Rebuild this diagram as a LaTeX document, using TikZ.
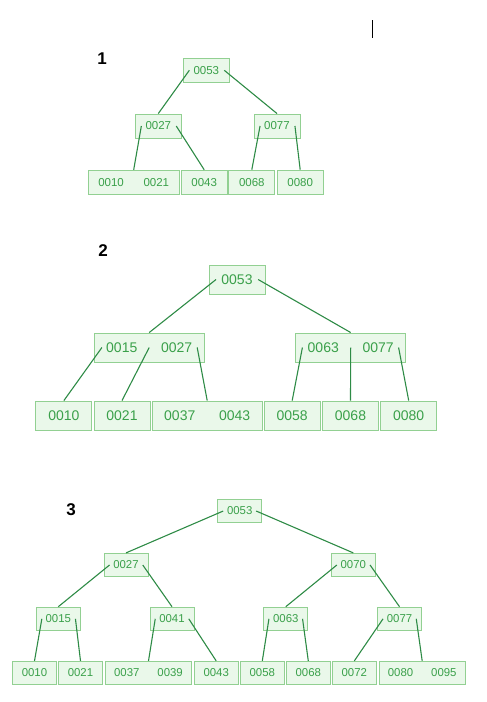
\documentclass[tikz,border=0pt]{standalone}
\usepackage{fontspec}
\setmainfont{Liberation Sans}
\usetikzlibrary{calc}
\definecolor{keyfill}{HTML}{EAF8EA}
\definecolor{keyline}{HTML}{92D092}
\definecolor{keytext}{HTML}{3AA04A}
\definecolor{ptrline}{HTML}{2E8B46}
\newcommand*{\twokeys}[3][20pt]{#2\hspace{#1}#3}

\begin{document}
\begin{tikzpicture}[x=1pt,y=-1pt,
  every node/.style = {inner sep=0pt},
  key/.style     = {draw=keyline,fill=keyfill,text=keytext,line width=0.9pt},
  tree1/.style   = {key,font=\fontsize{11.5}{12}\selectfont,minimum height=24pt,minimum width=46pt},
  tree2/.style   = {key,font=\fontsize{14}{15}\selectfont,minimum height=29pt,minimum width=56pt},
  tree3/.style   = {key,font=\fontsize{11.4}{12}\selectfont,minimum height=23.3pt,minimum width=44pt},
  treenum/.style = {font=\fontsize{17}{17}\selectfont\bfseries},
  ptr/.style     = {draw=ptrline,line width=1.1pt},
  ]
  \useasboundingbox (0,0) rectangle (487,702);
  \draw[line width=1.6pt] (372.3,20) -- (372.3,38);

  % tree 1
  \node[treenum] (num1) at (102,59) {1};
  \node[tree1] (t1r) at (206.3,70.3) {0053};
  \node[tree1] (t1a) at (158.3,126) {0027};
  \node[tree1] (t1b) at (277,126) {0077};
  \node[tree1,minimum width=90.7pt] (t1l1) at (133.7,182.2) {\twokeys[19.7pt]{0010}{0021}};
  \node[tree1] (t1l2) at (204.2,182.2) {0043};
  \node[tree1] (t1l3) at (251.8,182.2) {0068};
  \node[tree1] (t1l4) at (300.2,182.2) {0080};
  \draw[ptr] ($(t1r.west)+(6.5,0)$) -- (t1a.north);
  \draw[ptr] ($(t1r.east)+(-5.5,0)$) -- (t1b.north);
  \draw[ptr] ($(t1a.west)+(6.5,0)$) -- (t1l1.north);
  \draw[ptr] ($(t1a.east)+(-5.5,0)$) -- (t1l2.north);
  \draw[ptr] ($(t1b.west)+(6.5,0)$) -- (t1l3.north);
  \draw[ptr] ($(t1b.east)+(-5.5,0)$) -- (t1l4.north);

  % tree 2
  \node[treenum] (num2) at (103,251) {2};
  \node[tree2] (t2r) at (237,279.5) {0053};
  \node[tree2,minimum width=109.7pt] (t2a) at (149.2,347.5) {\twokeys[23.7pt]{0015}{0027}};
  \node[tree2,minimum width=109.7pt] (t2b) at (350.7,347.5) {\twokeys[23.7pt]{0063}{0077}};
  \node[tree2] (t2l1) at (63.9,415.5) {0010};
  \node[tree2] (t2l2) at (122,415.5) {0021};
  \node[tree2,minimum width=109.7pt] (t2l3) at (207.2,415.5) {\twokeys[23.7pt]{0037}{0043}};
  \node[tree2] (t2l4) at (292.2,415.5) {0058};
  \node[tree2] (t2l5) at (350.5,415.5) {0068};
  \node[tree2] (t2l6) at (408.7,415.5) {0080};
  \draw[ptr] ($(t2r.west)+(7.5,0)$) -- (t2a.north);
  \draw[ptr] ($(t2r.east)+(-7.3,0)$) -- (t2b.north);
  \draw[ptr] ($(t2a.west)+(8,0)$) -- (t2l1.north);
  \draw[ptr] (t2a.center) -- (t2l2.north);
  \draw[ptr] ($(t2a.east)+(-7.3,0)$) -- (t2l3.north);
  \draw[ptr] ($(t2b.west)+(7,0)$) -- (t2l4.north);
  \draw[ptr] (t2b.center) -- (t2l5.north);
  \draw[ptr] ($(t2b.east)+(-7.4,0)$) -- (t2l6.north);

  % tree 3
  \node[treenum] (num3) at (71,510) {3};
  \node[tree3] (t3r) at (239.7,511) {0053};
  \node[tree3] (t3a) at (126,565) {0027};
  \node[tree3] (t3b) at (353.3,565) {0070};
  \node[tree3] (t3c) at (58.3,618.8) {0015};
  \node[tree3] (t3d) at (172,618.8) {0041};
  \node[tree3] (t3e) at (285.8,618.8) {0063};
  \node[tree3] (t3f) at (399.5,618.8) {0077};
  \node[tree3] (t3l1) at (34.5,673) {0010};
  \node[tree3] (t3l2) at (80.5,673) {0021};
  \node[tree3,minimum width=86.5pt] (t3l3) at (148.5,673) {\twokeys[18pt]{0037}{0039}};
  \node[tree3] (t3l4) at (216.2,673) {0043};
  \node[tree3] (t3l5) at (262.3,673) {0058};
  \node[tree3] (t3l6) at (308.3,673) {0068};
  \node[tree3] (t3l7) at (354.3,673) {0072};
  \node[tree3,minimum width=86.5pt] (t3l8) at (422.2,673) {\twokeys[18pt]{0080}{0095}};
  \draw[ptr] ($(t3r.west)+(6,0)$) -- (t3a.north);
  \draw[ptr] ($(t3r.east)+(-6,0)$) -- (t3b.north);
  \draw[ptr] ($(t3a.west)+(6,0)$) -- (t3c.north);
  \draw[ptr] ($(t3a.east)+(-5.7,0)$) -- (t3d.north);
  \draw[ptr] ($(t3b.west)+(6,0)$) -- (t3e.north);
  \draw[ptr] ($(t3b.east)+(-5.7,0)$) -- (t3f.north);
  \draw[ptr] ($(t3c.west)+(6,0)$) -- (t3l1.north);
  \draw[ptr] ($(t3c.east)+(-5.3,0)$) -- (t3l2.north);
  \draw[ptr] ($(t3d.west)+(5.7,0)$) -- (t3l3.north);
  \draw[ptr] ($(t3d.east)+(-5.7,0)$) -- (t3l4.north);
  \draw[ptr] ($(t3e.west)+(5.6,0)$) -- (t3l5.north);
  \draw[ptr] ($(t3e.east)+(-5.7,0)$) -- (t3l6.north);
  \draw[ptr] ($(t3f.west)+(6,0)$) -- (t3l7.north);
  \draw[ptr] ($(t3f.east)+(-5.7,0)$) -- (t3l8.north);
\end{tikzpicture}
\end{document}
